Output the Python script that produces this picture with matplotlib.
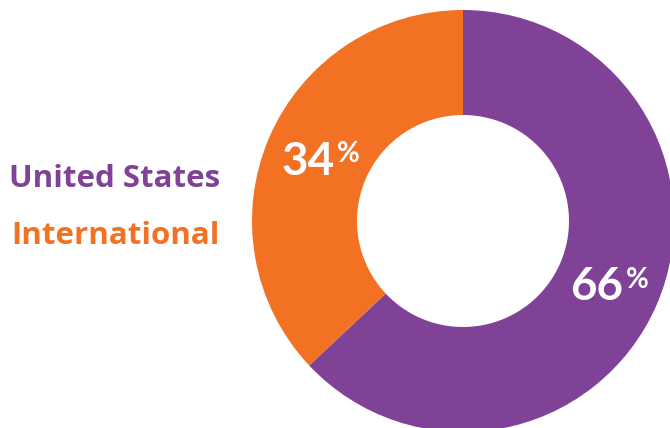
import matplotlib
matplotlib.use("Agg")
import matplotlib.pyplot as plt

categories = ["United States", "International"]
slice_shares = [63, 37]          # drawn slice sizes
share_labels = ["66", "34"]      # printed percentages
colors = ["#7F4297", "#F27122"]

W, H = 670, 428
fig = plt.figure(figsize=(W / 100, H / 100), dpi=100)
ax = fig.add_axes([0, 0, 1, 1])

cx, cy, R, r = 463, H - 221, 211, 106
ax.pie(slice_shares, colors=colors, startangle=90, counterclock=False,
       center=(cx, cy), radius=R,
       wedgeprops=dict(width=R - r, linewidth=0))
ax.set_xlim(0, W)
ax.set_ylim(0, H)
ax.set_aspect("equal")
ax.axis("off")

lab_font = "Open Sans"
num_font = "Lato"
# legend-like labels
ax.text(220, H - 187, categories[0], color=colors[0], fontsize=22.5,
        fontweight="bold", family=lab_font, ha="right", va="baseline")
ax.text(220, H - 244, categories[1], color=colors[1], fontsize=22.5,
        fontweight="bold", family=lab_font, ha="right", va="baseline")

# percentages
ax.text(335, H - 175, share_labels[1], color="white", fontsize=33,
        fontweight="bold", family=num_font, ha="right", va="baseline")
ax.text(337, H - 162, "%", color="white", fontsize=20,
        fontweight="bold", family=num_font, ha="left", va="baseline")
ax.text(623, H - 300, share_labels[0], color="white", fontsize=33,
        fontweight="bold", family=num_font, ha="right", va="baseline")
ax.text(626, H - 288, "%", color="white", fontsize=20,
        fontweight="bold", family=num_font, ha="left", va="baseline")

fig.savefig("out.png", dpi=100)
